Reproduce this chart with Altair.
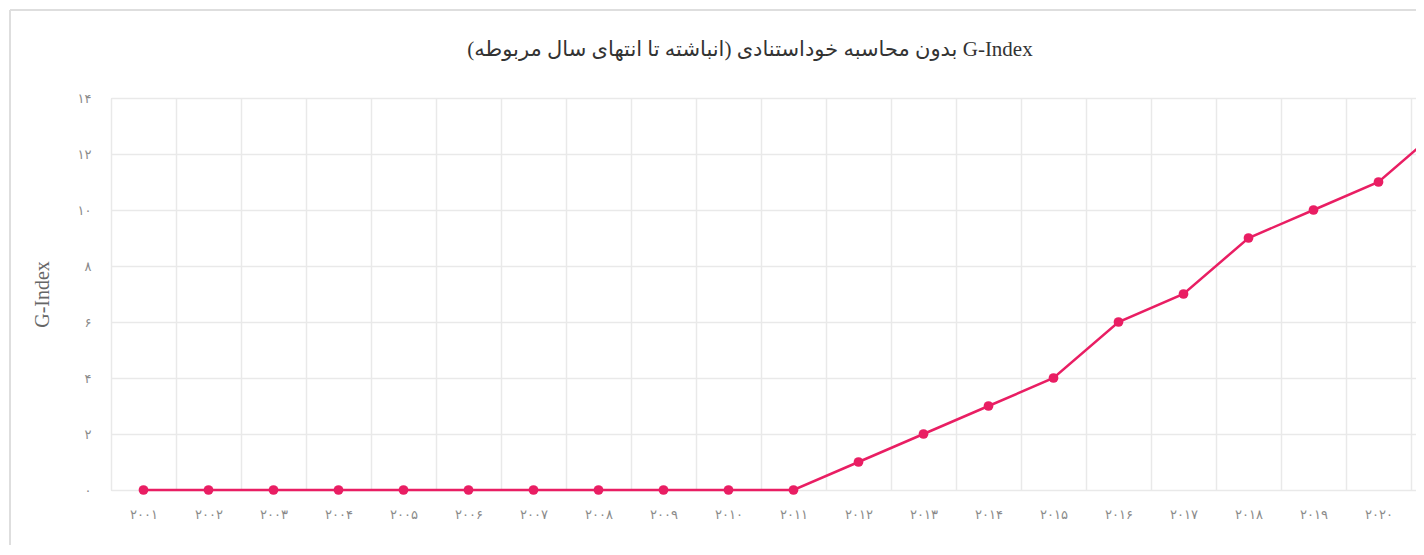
import altair as alt
import pandas as pd

years_fa = ["۲۰۰۱", "۲۰۰۲", "۲۰۰۳", "۲۰۰۴", "۲۰۰۵", "۲۰۰۶", "۲۰۰۷",
            "۲۰۰۸", "۲۰۰۹", "۲۰۱۰", "۲۰۱۱", "۲۰۱۲", "۲۰۱۳", "۲۰۱۴",
            "۲۰۱۵", "۲۰۱۶", "۲۰۱۷", "۲۰۱۸", "۲۰۱۹", "۲۰۲۰", "۲۰۲۱"]
g_index = [0, 0, 0, 0, 0, 0, 0, 0, 0, 0, 0, 1, 2, 3, 4, 6, 7, 9, 10, 11, 13]
y_ticks = [0, 2, 4, 6, 8, 10, 12, 14]

title_text = "\u202bG-Index بدون محاسبه خوداستنادی (انباشته تا انتهای سال مربوطه)\u202c"

df = pd.DataFrame({"year": years_fa, "g": g_index})

LINE = "#e91e63"
persian_expr = ("replace(replace(replace(replace(replace(replace(datum.label,"
                "'0','۰'),'1','۱'),'2','۲'),'4','۴'),'6','۶'),'8','۸')")

x_enc = alt.X(
    "year:N", sort=years_fa,
    scale=alt.Scale(paddingInner=0, paddingOuter=0, range=[0, 1365]),
    axis=alt.Axis(title=None, grid=True, tickBand="extent", ticks=False, domain=False,
                  labelAngle=0, labelPadding=18, labelFont="DejaVu Sans",
                  labelFontSize=13, labelColor="#8a8a8a",
                  gridColor="#e9e9e9", gridWidth=1.5),
)
y_enc = alt.Y(
    "g:Q",
    scale=alt.Scale(domain=[0, 14], nice=False),
    axis=alt.Axis(title="G-Index", values=y_ticks, ticks=False, domain=False,
                  labelPadding=20, labelFont="DejaVu Sans", labelFontSize=13,
                  labelColor="#8a8a8a", labelExpr=persian_expr,
                  gridColor="#e9e9e9", gridWidth=1.5,
                  titleFont="Liberation Serif", titleFontSize=20,
                  titleFontWeight="normal", titleColor="#666666",
                  titleX=-69, titleY=196, titleAngle=270,
                  titleAlign="center", titleBaseline="middle"),
)

base = alt.Chart(df)
line = base.mark_line(color=LINE, strokeWidth=2.5).encode(x=x_enc, y=y_enc)
pts = base.mark_point(color=LINE, filled=True, opacity=1, size=95).encode(x=x_enc, y=y_enc)

frame_df = pd.DataFrame({"a": [0]})
left_border = alt.Chart(frame_df).mark_rule(color="#dedede", strokeWidth=2).encode(
    x=alt.value(-101), y=alt.value(-88), y2=alt.value(460))
top_border = alt.Chart(frame_df).mark_rule(color="#dedede", strokeWidth=2).encode(
    x=alt.value(-101), x2=alt.value(1305), y=alt.value(-88))
title_mark = alt.Chart(frame_df).mark_text(
    font="Liberation Serif, DejaVu Sans", fontSize=21, color="#333333",
    align="center", baseline="middle").encode(
    x=alt.value(639), y=alt.value(-48), text=alt.value(title_text))

chart = alt.layer(left_border, top_border, title_mark, line, pts).properties(
    width=1305, height=392,
    padding={"left": 103, "top": 90, "right": 0, "bottom": 55},
    autosize=alt.AutoSizeParams(type="none"),
).configure_view(stroke=None).configure(background="white")

chart.save("out.html", embed_options={"renderer": "svg", "actions": False})
